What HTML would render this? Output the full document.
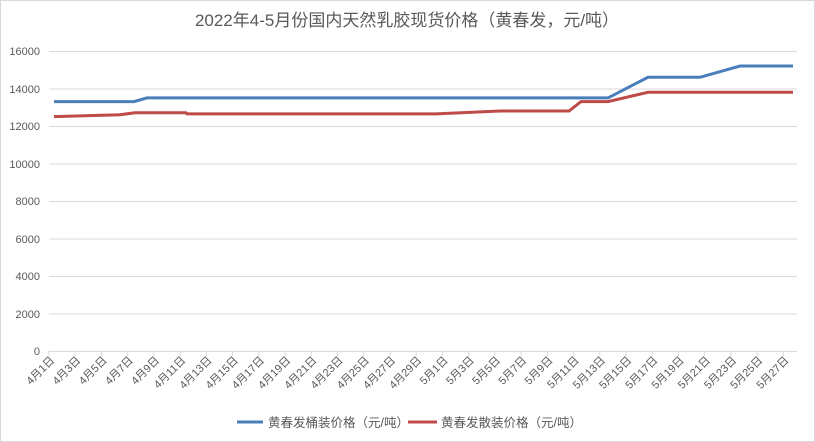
<!DOCTYPE html>
<html><head><meta charset="utf-8"><style>
body{margin:0;background:#fff}
svg{display:block;font-family:"Liberation Sans","Noto Sans CJK SC",sans-serif}
</style></head><body>
<svg width="815" height="442" viewBox="0 0 815 442">
<rect x="0.5" y="0.5" width="814" height="441" fill="#fff" stroke="#d9d9d9"/>
<text x="407" y="26" text-anchor="middle" font-size="17" fill="#595959">2022年4-5月份国内天然乳胶现货价格（黄春发，元/吨）</text>
<g stroke="#d9d9d9" stroke-width="1">
<line x1="49" x2="797" y1="51.5" y2="51.5"/><line x1="49" x2="797" y1="89" y2="89"/><line x1="49" x2="797" y1="126.5" y2="126.5"/><line x1="49" x2="797" y1="164" y2="164"/><line x1="49" x2="797" y1="201.5" y2="201.5"/><line x1="49" x2="797" y1="239" y2="239"/><line x1="49" x2="797" y1="276.5" y2="276.5"/><line x1="49" x2="797" y1="314" y2="314"/><line x1="49" x2="797" y1="351.5" y2="351.5"/>
<line x1="49" x2="49" y1="351" y2="356"/><line x1="75.2" x2="75.2" y1="351" y2="356"/><line x1="101.5" x2="101.5" y1="351" y2="356"/><line x1="127.7" x2="127.7" y1="351" y2="356"/><line x1="153.9" x2="153.9" y1="351" y2="356"/><line x1="180.2" x2="180.2" y1="351" y2="356"/><line x1="206.4" x2="206.4" y1="351" y2="356"/><line x1="232.6" x2="232.6" y1="351" y2="356"/><line x1="258.8" x2="258.8" y1="351" y2="356"/><line x1="285.1" x2="285.1" y1="351" y2="356"/><line x1="311.3" x2="311.3" y1="351" y2="356"/><line x1="337.5" x2="337.5" y1="351" y2="356"/><line x1="363.8" x2="363.8" y1="351" y2="356"/><line x1="390" x2="390" y1="351" y2="356"/><line x1="416.2" x2="416.2" y1="351" y2="356"/><line x1="442.5" x2="442.5" y1="351" y2="356"/><line x1="468.7" x2="468.7" y1="351" y2="356"/><line x1="494.9" x2="494.9" y1="351" y2="356"/><line x1="521.1" x2="521.1" y1="351" y2="356"/><line x1="547.4" x2="547.4" y1="351" y2="356"/><line x1="573.6" x2="573.6" y1="351" y2="356"/><line x1="599.8" x2="599.8" y1="351" y2="356"/><line x1="626.1" x2="626.1" y1="351" y2="356"/><line x1="652.3" x2="652.3" y1="351" y2="356"/><line x1="678.5" x2="678.5" y1="351" y2="356"/><line x1="704.8" x2="704.8" y1="351" y2="356"/><line x1="731" x2="731" y1="351" y2="356"/><line x1="757.2" x2="757.2" y1="351" y2="356"/><line x1="783.4" x2="783.4" y1="351" y2="356"/>
</g>
<g font-size="11" fill="#595959" text-anchor="end">
<text x="40" y="55">16000</text><text x="40" y="93">14000</text><text x="40" y="130">12000</text><text x="40" y="168">10000</text><text x="40" y="205">8000</text><text x="40" y="243">6000</text><text x="40" y="280">4000</text><text x="40" y="318">2000</text><text x="40" y="355">0</text>
</g>
<g font-size="11" fill="#595959" text-anchor="end">
<text transform="translate(55,361) rotate(-45)">4月1日</text>
<text transform="translate(81.2,361) rotate(-45)">4月3日</text>
<text transform="translate(107.5,361) rotate(-45)">4月5日</text>
<text transform="translate(133.7,361) rotate(-45)">4月7日</text>
<text transform="translate(159.9,361) rotate(-45)">4月9日</text>
<text transform="translate(186.2,361) rotate(-45)">4月11日</text>
<text transform="translate(212.4,361) rotate(-45)">4月13日</text>
<text transform="translate(238.6,361) rotate(-45)">4月15日</text>
<text transform="translate(264.8,361) rotate(-45)">4月17日</text>
<text transform="translate(291.1,361) rotate(-45)">4月19日</text>
<text transform="translate(317.3,361) rotate(-45)">4月21日</text>
<text transform="translate(343.5,361) rotate(-45)">4月23日</text>
<text transform="translate(369.8,361) rotate(-45)">4月25日</text>
<text transform="translate(396,361) rotate(-45)">4月27日</text>
<text transform="translate(422.2,361) rotate(-45)">4月29日</text>
<text transform="translate(448.5,361) rotate(-45)">5月1日</text>
<text transform="translate(474.7,361) rotate(-45)">5月3日</text>
<text transform="translate(500.9,361) rotate(-45)">5月5日</text>
<text transform="translate(527.1,361) rotate(-45)">5月7日</text>
<text transform="translate(553.4,361) rotate(-45)">5月9日</text>
<text transform="translate(579.6,361) rotate(-45)">5月11日</text>
<text transform="translate(605.8,361) rotate(-45)">5月13日</text>
<text transform="translate(632.1,361) rotate(-45)">5月15日</text>
<text transform="translate(658.3,361) rotate(-45)">5月17日</text>
<text transform="translate(684.5,361) rotate(-45)">5月19日</text>
<text transform="translate(710.8,361) rotate(-45)">5月21日</text>
<text transform="translate(737,361) rotate(-45)">5月23日</text>
<text transform="translate(763.2,361) rotate(-45)">5月25日</text>
<text transform="translate(789.4,361) rotate(-45)">5月27日</text>
</g>
<polyline fill="none" stroke="#4a7ebb" stroke-width="3" points="54,101.6 134,101.6 147,97.9 608,97.9 648,77.3 700,77.3 740,66 793,66"/>
<polyline fill="none" stroke="#be4b48" stroke-width="3" points="54,116.6 120,114.7 135,112.8 186,112.8 187,113.9 436,113.9 500,111 569,111 581,101.6 608,101.6 648,92.3 793,92.3"/>
<line x1="237" x2="263" y1="422" y2="422" stroke="#4a7ebb" stroke-width="3"/>
<text x="268" y="427" font-size="12.5" fill="#595959">黄春发桶装价格（元/吨）</text>
<line x1="408" x2="437" y1="422" y2="422" stroke="#be4b48" stroke-width="3"/>
<text x="441" y="427" font-size="12.5" fill="#595959">黄春发散装价格（元/吨）</text>
</svg>
</body></html>
